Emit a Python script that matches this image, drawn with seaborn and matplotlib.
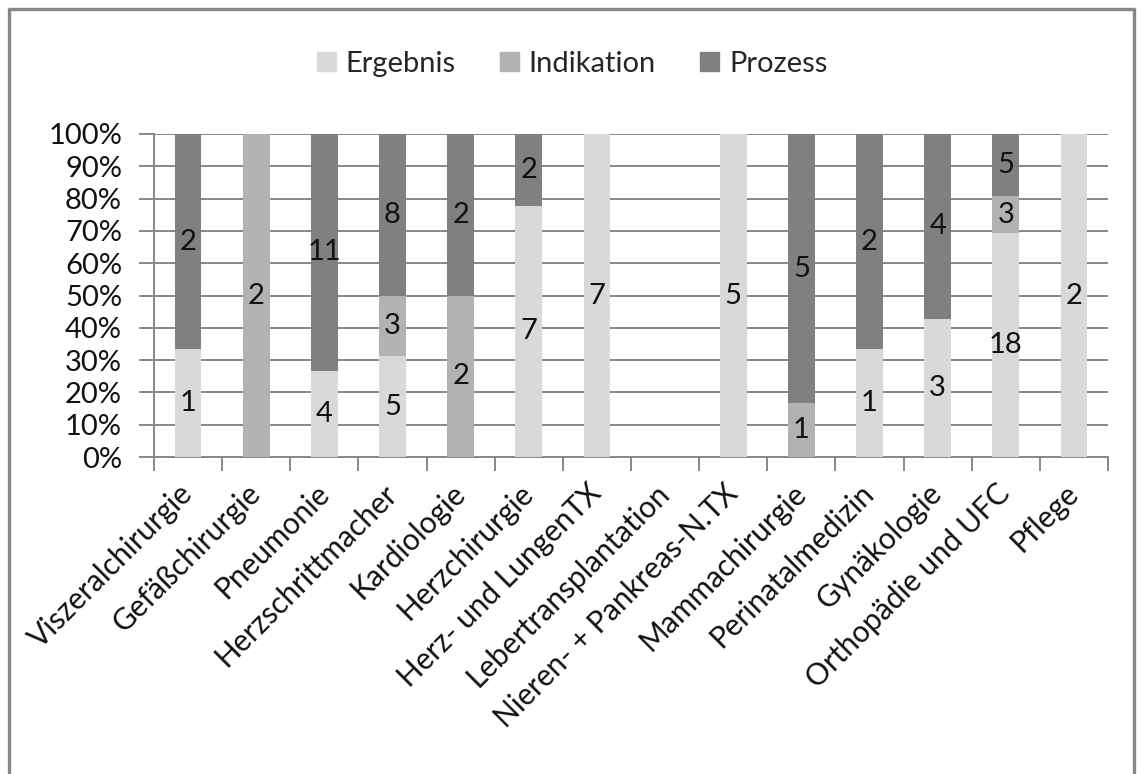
import numpy as np
import pandas as pd
import matplotlib
matplotlib.use("Agg")
import matplotlib.pyplot as plt
from matplotlib.lines import Line2D
from matplotlib.ticker import PercentFormatter, FixedLocator
import seaborn as sns

categories = [
    "Viszeralchirurgie", "Gefäßchirurgie", "Pneumonie", "Herzschrittmacher",
    "Kardiologie", "Herzchirurgie", "Herz- und LungenTX", "Lebertransplantation",
    "Nieren- + Pankreas-N.TX", "Mammachirurgie", "Perinatalmedizin",
    "Gynäkologie", "Orthopädie und UFC", "Pflege",
]
ergebnis = [1, 0, 4, 5, 0, 7, 7, 0, 5, 0, 1, 3, 18, 2]
indikation = [0, 2, 0, 3, 2, 0, 0, 0, 0, 1, 0, 0, 3, 0]
prozess = [2, 0, 11, 8, 2, 2, 0, 0, 0, 5, 2, 4, 5, 0]

series_names = ["Ergebnis", "Indikation", "Prozess"]
series_colors = ["#d9d9d9", "#b2b2b2", "#808080"]
grid_color = "#878787"
text_size = 21

sns.set_theme(style="white")
plt.rcParams["font.family"] = ["Lato", "DejaVu Sans"]
plt.rcParams["font.size"] = text_size

counts = pd.DataFrame({"Ergebnis": ergebnis, "Indikation": indikation,
                       "Prozess": prozess}, index=categories)
totals = counts.sum(axis=1).replace(0, np.nan)
shares = counts.div(totals, axis=0).fillna(0) * 100

fig = plt.figure(figsize=(11.41, 7.74), dpi=100)
ax = fig.add_axes([154 / 1141, 1 - 457 / 774, (1108 - 154) / 1141, (457 - 134) / 774])

bottom = np.zeros(len(categories))
for name, color in zip(series_names, series_colors):
    df = pd.DataFrame({"cat": categories, "val": shares[name].values})
    sns.barplot(data=df, x="cat", y="val", order=categories, color=color,
                bottom=bottom, width=0.39, saturation=1, linewidth=0,
                ax=ax, zorder=3, label=name)
    for i, (c, s) in enumerate(zip(counts[name].values, shares[name].values)):
        if c > 0:
            ax.text(i, bottom[i] + s / 2, str(c), ha="center", va="center",
                    fontsize=text_size, color="#111111", zorder=4)
    bottom = bottom + shares[name].values

ax.set_xlim(-0.5, len(categories) - 0.5)
ax.set_ylim(0, 100)
ax.set_xlabel("")
ax.set_ylabel("")
ax.yaxis.set_major_locator(FixedLocator(np.arange(0, 101, 10)))
ax.yaxis.set_major_formatter(PercentFormatter(decimals=0))
ax.grid(axis="y", color=grid_color, linewidth=1.4, zorder=0)
ax.set_axisbelow(True)

for side in ["top", "right"]:
    ax.spines[side].set_visible(False)
for side in ["left", "bottom"]:
    ax.spines[side].set_color(grid_color)
    ax.spines[side].set_linewidth(1.4)

ax.tick_params(axis="y", which="major", length=11, width=1.4, color=grid_color,
               left=True, pad=12, labelsize=text_size, labelcolor="#111111")
ax.set_xticks(range(len(categories)))
ax.set_xticks(np.arange(-0.5, len(categories), 1.0), minor=True)
ax.tick_params(axis="x", which="major", length=0, pad=23, labelsize=21.5,
               labelcolor="#111111")
ax.tick_params(axis="x", which="minor", length=10, width=1.4, color=grid_color,
               bottom=True)
for lbl in ax.get_xticklabels():
    lbl.set_rotation(45)
    lbl.set_rotation_mode("anchor")
    lbl.set_ha("right")
    lbl.set_va("center")

handles = [plt.Rectangle((0, 0), 1, 1, color=c) for c in series_colors]
fig.legend(handles, series_names, loc="center", bbox_to_anchor=(572 / 1141, 1 - 64 / 774),
           ncol=3, frameon=False, fontsize=text_size, handlelength=0.65, handleheight=0.65,
           handletextpad=0.35, columnspacing=1.5)
if ax.get_legend() is not None:
    ax.get_legend().remove()

# chart frame
x0, x1 = 9 / 1141, 1134 / 1141
ytop = 1 - 9 / 774
for xs, ys in [([x0, x0], [-0.05, ytop]), ([x0, x1], [ytop, ytop]), ([x1, x1], [ytop, -0.05])]:
    fig.add_artist(Line2D(xs, ys, transform=fig.transFigure, color="#878787",
                          linewidth=2.4, clip_on=False))

fig.savefig("out.png", dpi=100, facecolor="white")
